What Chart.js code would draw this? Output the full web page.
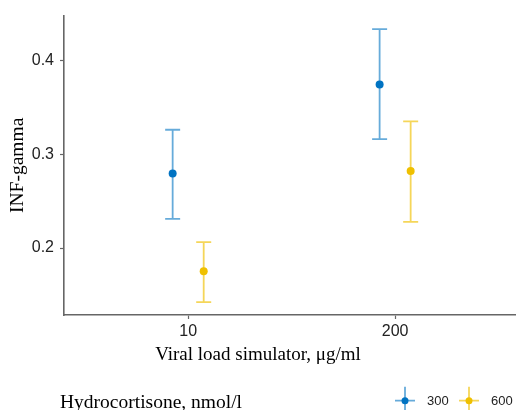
<!DOCTYPE html>
<html>
<head>
<meta charset="utf-8">
<script src="https://cdn.jsdelivr.net/npm/chart.js@4"></script>
<style>
  html, body { margin: 0; padding: 0; background: #fff; }
  #wrap { width: 516px; height: 410px; }
</style>
</head>
<body>
<div id="wrap"><canvas id="chart"></canvas></div>
<script>
// categories on the x axis and the two hydrocortisone groups
const categories = ["10", "200"];
const groups = ["300", "600"];

// means and 95% CI
const mean300 = [0.2795, 0.3742];
const lower300 = [0.2312, 0.3160];
const upper300 = [0.3261, 0.4332];

const mean600 = [0.1753, 0.2820];
const lower600 = [0.1424, 0.2280];
const upper600 = [0.2064, 0.3350];

const yTicks = [0.2, 0.3, 0.4];

const colors = ["#0073C2", "#EFC000"];
const barColors = ["rgba(0,115,194,0.6)", "rgba(239,192,0,0.65)"];
const dodge = 0.075;

const makePoints = (means, lo, hi, shift) =>
  categories.map((c, i) => ({ x: i + 1 + shift, y: means[i], lo: lo[i], hi: hi[i] }));

// error bars drawn behind the points
const errorBars = {
  id: "errorBars",
  beforeDatasetsDraw(chart) {
    const { ctx } = chart;
    const y = chart.scales.y;
    chart.data.datasets.forEach((ds, d) => {
      const meta = chart.getDatasetMeta(d);
      ctx.save();
      ctx.strokeStyle = barColors[d];
      ctx.lineWidth = 1.8;
      meta.data.forEach((pt, i) => {
        const top = y.getPixelForValue(ds.data[i].hi);
        const bot = y.getPixelForValue(ds.data[i].lo);
        ctx.beginPath();
        ctx.moveTo(pt.x, top);
        ctx.lineTo(pt.x, bot);
        ctx.moveTo(pt.x - 7.5, top);
        ctx.lineTo(pt.x + 7.5, top);
        ctx.moveTo(pt.x - 7.5, bot);
        ctx.lineTo(pt.x + 7.5, bot);
        ctx.stroke();
      });
      ctx.restore();
    });
  }
};

// ggplot style legend along the bottom
const bottomLegend = {
  id: "bottomLegend",
  afterDraw(chart) {
    const { ctx } = chart;
    ctx.save();
    ctx.fillStyle = "#000";
    ctx.font = "19.5px 'Liberation Serif'";
    ctx.textAlign = "left";
    ctx.textBaseline = "alphabetic";
    ctx.fillText("Hydrocortisone, nmol/l", 60, 407.5);

    const keyX = [405, 469];
    const keyY = 400.7;
    groups.forEach((g, i) => {
      const cx = keyX[i];
      ctx.strokeStyle = barColors[i];
      ctx.lineWidth = 1.8;
      ctx.beginPath();
      ctx.moveTo(cx - 10, keyY);
      ctx.lineTo(cx + 10, keyY);
      ctx.moveTo(cx, keyY - 14);
      ctx.lineTo(cx, keyY + 14);
      ctx.stroke();
      ctx.fillStyle = colors[i];
      ctx.beginPath();
      ctx.arc(cx, keyY, 3.5, 0, Math.PI * 2);
      ctx.fill();
      ctx.fillStyle = "#222";
      ctx.font = "13px 'Liberation Sans'";
      ctx.textBaseline = "middle";
      ctx.fillText(g, cx + 22, keyY + 0.5);
    });
    ctx.restore();
  }
};

const ctx = document.getElementById("chart");

new Chart(ctx, {
  type: "scatter",
  data: {
    datasets: [
      {
        label: groups[0],
        data: makePoints(mean300, lower300, upper300, -dodge),
        backgroundColor: colors[0],
        borderWidth: 0,
        pointRadius: 4,
        pointHoverRadius: 4
      },
      {
        label: groups[1],
        data: makePoints(mean600, lower600, upper600, dodge),
        backgroundColor: colors[1],
        borderWidth: 0,
        pointRadius: 4,
        pointHoverRadius: 4
      }
    ]
  },
  options: {
    responsive: true,
    maintainAspectRatio: false,
    animation: false,
    layout: { autoPadding: false, padding: { top: 14, right: 0, bottom: 43.2, left: 0 } },
    plugins: {
      legend: { display: false },
      tooltip: { enabled: false },
      // x axis title, centred on the whole figure like the reference
      title: {
        display: true,
        position: "bottom",
        text: "Viral load simulator, μg/ml",
        color: "#000",
        padding: 0,
        font: { family: "'Liberation Serif'", size: 19, weight: "normal" }
      }
    },
    scales: {
      x: {
        type: "linear",
        min: 0.4,
        max: 2.584,
        afterBuildTicks: s => { s.ticks = categories.map((c, i) => ({ value: i + 1 })); },
        afterFit: s => { s.height = 29; },
        ticks: {
          callback: v => categories[v - 1],
          color: "#222",
          padding: 3,
          font: { family: "'Liberation Sans'", size: 16 }
        },
        grid: { drawOnChartArea: false, tickLength: 4, color: "#666", tickWidth: 1.2 },
        border: { color: "#666", width: 1.6 }
      },
      y: {
        min: 0.1287,
        max: 0.4477,
        afterBuildTicks: s => { s.ticks = yTicks.map(v => ({ value: v })); },
        afterFit: s => { s.width = 64; },
        ticks: {
          callback: v => v.toFixed(1),
          color: "#222",
          padding: 6,
          font: { family: "'Liberation Sans'", size: 16 }
        },
        grid: { drawOnChartArea: false, tickLength: 4, color: "#666", tickWidth: 1.2 },
        border: { color: "#666", width: 1.6 },
        title: {
          display: true,
          text: "INF-gamma",
          color: "#000",
          padding: { top: 6, bottom: 0 },
          font: { family: "'Liberation Serif'", size: 19.5 }
        }
      }
    }
  },
  plugins: [errorBars, bottomLegend]
});
</script>
</body>
</html>
